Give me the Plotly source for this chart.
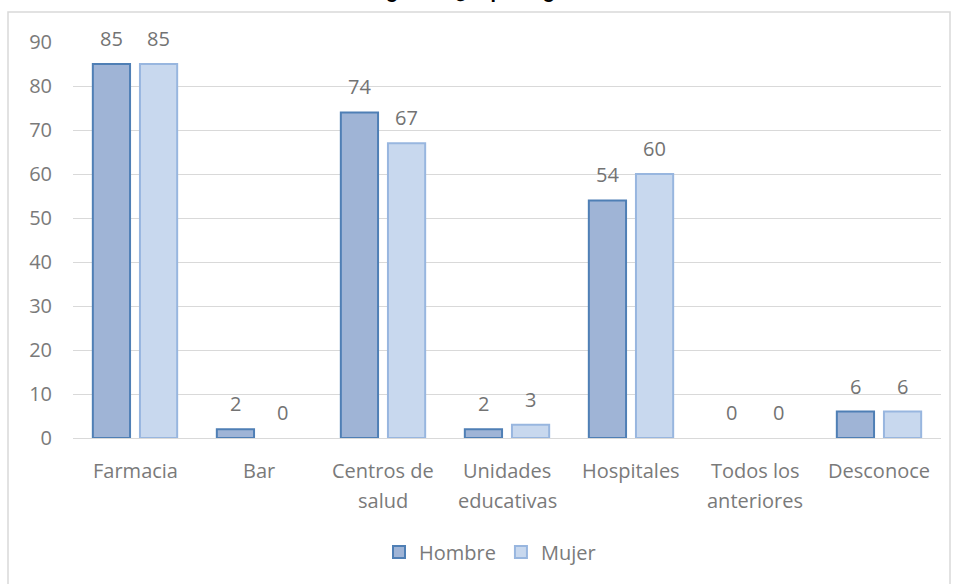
import plotly.graph_objects as go

categories = ["Farmacia", "Bar", "Centros de salud", "Unidades educativas",
              "Hospitales", "Todos los anteriores", "Desconoce"]
cat_lines = [["Farmacia"], ["Bar"], ["Centros de", "salud"], ["Unidades", "educativas"],
             ["Hospitales"], ["Todos los", "anteriores"], ["Desconoce"]]
hombre = [85, 2, 74, 2, 54, 0, 6]
mujer = [85, 0, 67, 3, 60, 0, 6]
y_ticks = [0, 10, 20, 30, 40, 50, 60, 70, 80, 90]
title_text = "En emergencia ¿a qué lugar acude?"

W, H = 956, 584
L, R, T, B = 73, 15, 42, 146
pw, ph = W - L - R, H - T - B

FONT = "'Open Sans', sans-serif"
TXT = "#7a7a7a"
fig = go.Figure()
fig.add_bar(name="Hombre", x=categories, y=hombre,
            marker=dict(color="#9fb4d6",
                        line=dict(color="#4f7fb5", width=[2 if v else 0 for v in hombre])))
fig.add_bar(name="Mujer", x=categories, y=mujer,
            marker=dict(color="#c8d8ee",
                        line=dict(color="#98b6df", width=[2 if v else 0 for v in mujer])))

ann = []
for i, c in enumerate(categories):
    for v, sh in ((hombre[i], -23.5), (mujer[i], 23.5)):
        ann.append(dict(x=c, y=v, xref="x", yref="y", text=str(v), showarrow=False,
                        xshift=sh, yanchor="bottom", yshift=10,
                        font=dict(family=FONT, size=20, color="#737373")))
    for j, line in enumerate(cat_lines[i]):
        ann.append(dict(x=c, y=0, xref="x", yref="y", text=line, showarrow=False,
                        yanchor="middle", yshift=-32 - 30 * j,
                        font=dict(family=FONT, size=20, color=TXT)))

ann.append(dict(x=(478 - L) / pw, y=1 + (T - 4) / ph, xref="paper", yref="paper",
                text="<b>" + title_text + "</b>", showarrow=False, yanchor="bottom",
                font=dict(family="Liberation Sans, Arial, sans-serif", size=20, color="#000")))

fig.update_layout(
    width=W, height=H,
    margin=dict(l=L, r=R, t=T, b=B),
    paper_bgcolor="white", plot_bgcolor="white",
    barmode="group", bargap=0.24, bargroupgap=0.21,
    font=dict(family=FONT, size=20, color=TXT),
    showlegend=True,
    legend=dict(orientation="h", x=(490 - L) / pw, xanchor="center",
                y=-(552 - 438) / ph, yanchor="middle",
                font=dict(size=20, color=TXT), itemwidth=30),
    annotations=ann,
    shapes=[dict(type="rect", xref="paper", yref="paper",
                 x0=(8 - L) / pw, x1=(950 - L) / pw,
                 y0=-(600 - 438) / ph, y1=1 + (T - 12) / ph,
                 line=dict(color="#d9d9d9", width=1.5), fillcolor="rgba(0,0,0,0)", layer="below")],
)
fig.update_xaxes(showticklabels=False, showgrid=False, showline=False, zeroline=False)
fig.update_yaxes(range=[0, 90], tickvals=y_ticks, showgrid=True, gridcolor="#d9d9d9",
                 gridwidth=1, zeroline=True, zerolinecolor="#d9d9d9", zerolinewidth=1,
                 showline=False, ticklabelstandoff=20,
                 tickfont=dict(family=FONT, size=20, color=TXT))
fig.write_html("out.html", config={"displayModeBar": False},
               post_script="document.body.style.margin='0';document.body.style.overflow='hidden';")
